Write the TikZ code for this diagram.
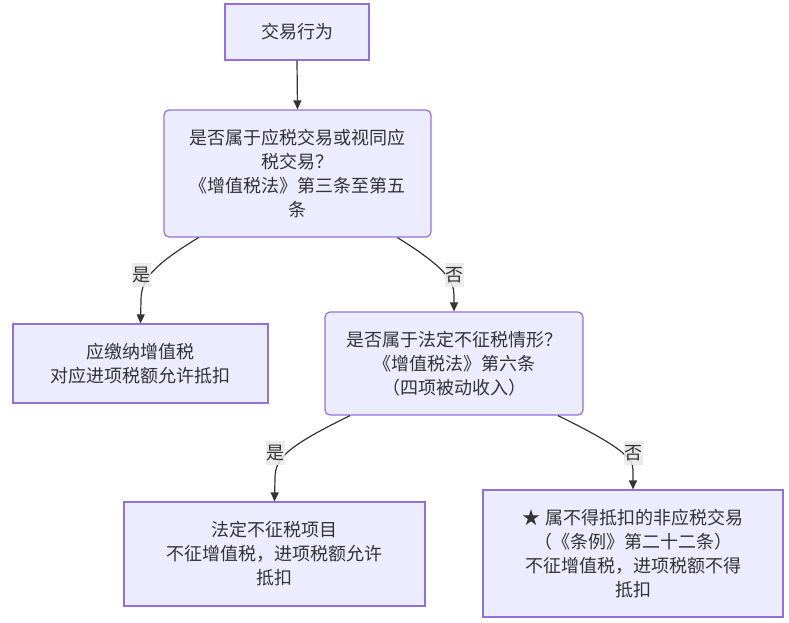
\documentclass[tikz,border=0pt]{standalone}
\usepackage{fontspec}
\setmainfont{Noto Sans CJK SC}
\usetikzlibrary{arrows.meta}
\definecolor{boxfill}{HTML}{ECECFF}
\definecolor{boxline}{HTML}{9370DB}
\definecolor{txt}{HTML}{333333}
\definecolor{lblbg}{HTML}{E8E8E8}
\begin{document}
\begin{tikzpicture}[x=1pt,y=-1pt,
  box/.style={draw=boxline, fill=boxfill, line width=1.2pt, inner sep=0pt,
    align=center, text=txt, font=\fontsize{18}{24}\selectfont},
  rbox/.style={box, rounded corners=5pt},
  edge/.style={draw=txt, line width=1.2pt, -{Triangle[length=9pt,width=8pt]}},
  lbl/.style={fill=lblbg, fill opacity=0.85, text opacity=1, text=txt, inner sep=0pt,
    minimum width=19pt, minimum height=24pt, font=\fontsize{18}{24}\selectfont}]
\useasboundingbox (0,0) rectangle (789,622);

\node[box, minimum width=144pt, minimum height=56pt] (A) at (297,32) {交易行为};
\node[rbox, minimum width=267pt, minimum height=127pt] (B) at (297.5,173.5)
  {是否属于应税交易或视同应\\税交易？\\《增值税法》第三条至第五\\条};
\node[box, minimum width=255pt, minimum height=79pt] (C) at (140.5,363.5)
  {应缴纳增值税\\对应进项税额允许抵扣};
\node[rbox, minimum width=258pt, minimum height=103pt] (D) at (454,363.5)
  {是否属于法定不征税情形？\\《增值税法》第六条\\（四项被动收入）};
\node[box, minimum width=301pt, minimum height=104pt] (E) at (274.5,554)
  {法定不征税项目\\不征增值税，进项税额允许\\抵扣};
\node[box, minimum width=300pt, minimum height=127pt] (F) at (633,553.5)
  {★ 属不得抵扣的非应税交易\\（《条例》第二十二条）\\不征增值税，进项税额不得\\抵扣};

\draw[edge] (A.south) -- (B.north);

\coordinate (b1) at ([xshift=-99pt]B.south);
\coordinate (b2) at ([xshift=100pt]B.south);
\coordinate (d1) at ([xshift=-104pt]D.south);
\coordinate (d2) at ([xshift=104pt]D.south);

\draw[edge] (b1) .. controls (152,266) and (141,280) .. (141,300) -- (C.north);
\draw[edge] (b2) .. controls (443,266) and (454,280) .. (454,295) -- (D.north);
\draw[edge] (d1) .. controls (288,446) and (275,458) .. (275,478) -- (E.north);
\draw[edge] (d2) .. controls (620,446) and (633,458) .. (633,470) -- (F.north);

\node[lbl] (l1) at (141,275) {是};
\node[lbl] (l2) at (454,275) {否};
\node[lbl] (l3) at (275,453) {是};
\node[lbl] (l4) at (633,453) {否};
\end{tikzpicture}
\end{document}
